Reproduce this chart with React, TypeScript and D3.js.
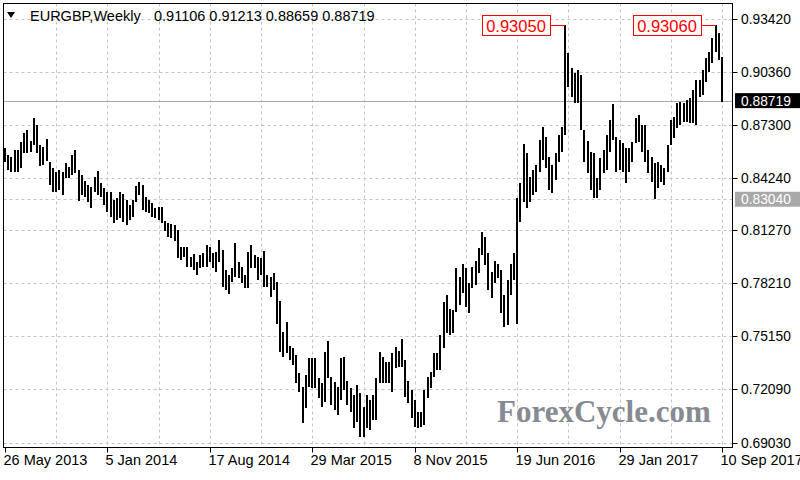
import React from "react";
import * as d3 from "d3";

const highs = [
  0.8599, 0.8559, 0.8547, 0.8587, 0.8587, 0.8633, 0.8685, 0.8703, 0.8639, 0.8772,
  0.8731, 0.8616, 0.8605, 0.8651, 0.8518, 0.8484, 0.8461, 0.8472, 0.8461, 0.8513,
  0.8490, 0.8559, 0.8587, 0.8472, 0.8443, 0.8409, 0.8386, 0.8374, 0.8432, 0.8466,
  0.8397, 0.8369, 0.8345, 0.8345, 0.8299, 0.8311, 0.8345, 0.8334, 0.8299, 0.8271,
  0.8299, 0.8380, 0.8403, 0.8386, 0.8317, 0.8299, 0.8282, 0.8253, 0.8259, 0.8259,
  0.8178, 0.8167, 0.8161, 0.8155, 0.8127, 0.8029, 0.8029, 0.8029, 0.7971, 0.7988,
  0.7942, 0.7983, 0.7994, 0.8040, 0.8029, 0.7994, 0.8000, 0.8069, 0.8011, 0.7896,
  0.7867, 0.7908, 0.8052, 0.7942, 0.7913, 0.7867, 0.8000, 0.8040, 0.7983, 0.7971,
  0.7965, 0.8006, 0.7867, 0.7856, 0.7879, 0.7827, 0.7718, 0.7539, 0.7597, 0.7458,
  0.7447, 0.7407, 0.7303, 0.7222, 0.7291, 0.7389, 0.7389, 0.7389, 0.7274, 0.7245,
  0.7424, 0.7487, 0.7280, 0.7251, 0.7222, 0.7389, 0.7395, 0.7257, 0.7217, 0.7176,
  0.7234, 0.7188, 0.7107, 0.7176, 0.7147, 0.7176, 0.7274, 0.7424, 0.7395, 0.7366,
  0.7366, 0.7418, 0.7453, 0.7430, 0.7499, 0.7378, 0.7257, 0.7205, 0.7147, 0.7078,
  0.7078, 0.7205, 0.7280, 0.7309, 0.7418, 0.7418, 0.7522, 0.7712, 0.7752, 0.7672,
  0.7666, 0.7908, 0.7856, 0.7931, 0.7908, 0.7821, 0.7913, 0.7948, 0.8023, 0.8115,
  0.8086, 0.7994, 0.7885, 0.7948, 0.7931, 0.7896, 0.7752, 0.7839, 0.7931, 0.7994,
  0.8311, 0.8397, 0.8622, 0.8570, 0.8432, 0.8472, 0.8501, 0.8645, 0.8720, 0.8662,
  0.8547, 0.8501, 0.8570, 0.8674, 0.8720, 0.9305, 0.9146, 0.9060, 0.9031, 0.9048,
  0.9020, 0.8703, 0.8639, 0.8576, 0.8570, 0.8426, 0.8541, 0.8587, 0.8674, 0.8760,
  0.8852, 0.8662, 0.8645, 0.8628, 0.8599, 0.8599, 0.8633, 0.8772, 0.8789, 0.8731,
  0.8731, 0.8587, 0.8547, 0.8513, 0.8518, 0.8501, 0.8484, 0.8616, 0.8760, 0.8777,
  0.8858, 0.8864, 0.8858, 0.8875, 0.8887, 0.8933, 0.8991, 0.8991, 0.9048, 0.9117,
  0.9152, 0.9232, 0.9306, 0.9261, 0.91213,
];

const lows = [
  0.8518, 0.8472, 0.8461, 0.8461, 0.8461, 0.8484, 0.8570, 0.8570, 0.8576, 0.8616,
  0.8570, 0.8495, 0.8501, 0.8524, 0.8386, 0.8345, 0.8345, 0.8357, 0.8328, 0.8426,
  0.8426, 0.8443, 0.8455, 0.8294, 0.8328, 0.8317, 0.8288, 0.8253, 0.8345, 0.8328,
  0.8317, 0.8271, 0.8230, 0.8202, 0.8167, 0.8184, 0.8196, 0.8173, 0.8155, 0.8184,
  0.8202, 0.8288, 0.8328, 0.8242, 0.8230, 0.8225, 0.8202, 0.8196, 0.8184, 0.8167,
  0.8121, 0.8086, 0.8081, 0.8063, 0.7965, 0.7954, 0.7971, 0.7913, 0.7913, 0.7896,
  0.7867, 0.7908, 0.7913, 0.7913, 0.7942, 0.7908, 0.7885, 0.7942, 0.7798, 0.7781,
  0.7758, 0.7827, 0.7856, 0.7850, 0.7821, 0.7793, 0.7793, 0.7908, 0.7908, 0.7839,
  0.7867, 0.7798, 0.7798, 0.7741, 0.7781, 0.7585, 0.7424, 0.7395, 0.7418, 0.7378,
  0.7349, 0.7245, 0.7194, 0.7015, 0.7101, 0.7222, 0.7217, 0.7217, 0.7159, 0.7107,
  0.7136, 0.7274, 0.7119, 0.7090, 0.7061, 0.7147, 0.7205, 0.7119, 0.7078, 0.6986,
  0.7021, 0.6934, 0.6934, 0.6986, 0.6975, 0.7032, 0.7032, 0.7245, 0.7245, 0.7245,
  0.7245, 0.7194, 0.7332, 0.7337, 0.7337, 0.7165, 0.7130, 0.7044, 0.6992, 0.6986,
  0.6992, 0.7003, 0.7159, 0.7217, 0.7280, 0.7320, 0.7320, 0.7447, 0.7533, 0.7522,
  0.7533, 0.7654, 0.7695, 0.7764, 0.7683, 0.7649, 0.7793, 0.7810, 0.7879, 0.7983,
  0.7925, 0.7781, 0.7735, 0.7821, 0.7850, 0.7649, 0.7568, 0.7579, 0.7752, 0.7839,
  0.7585, 0.8173, 0.8288, 0.8253, 0.8288, 0.8328, 0.8345, 0.8461, 0.8530, 0.8484,
  0.8357, 0.8340, 0.8415, 0.8518, 0.8576, 0.8674, 0.8950, 0.8893, 0.8858, 0.8858,
  0.8703, 0.8518, 0.8455, 0.8357, 0.8311, 0.8311, 0.8357, 0.8455, 0.8472, 0.8576,
  0.8645, 0.8461, 0.8472, 0.8461, 0.8397, 0.8461, 0.8518, 0.8628, 0.8633, 0.8576,
  0.8518, 0.8455, 0.8403, 0.8304, 0.8369, 0.8403, 0.8386, 0.8461, 0.8616, 0.8657,
  0.8714, 0.8731, 0.8749, 0.8749, 0.8743, 0.8743, 0.8731, 0.8893, 0.8904, 0.8979,
  0.9037, 0.9089, 0.9152, 0.9106, 0.88659,
];

const headerSymbol = "EURGBP,Weekly";
const headerValues = ["0.91106", "0.91213", "0.88659", "0.88719"];
const yTickValues = [0.9342, 0.9036, 0.873, 0.8424, 0.8127, 0.7821, 0.7515, 0.7209, 0.6903];
const dateLabels = ["26 May 2013", "5 Jan 2014", "17 Aug 2014", "29 Mar 2015", "8 Nov 2015", "19 Jun 2016", "29 Jan 2017", "10 Sep 2017"];
const dateLabelStep = 32;
const gridStep = 16;
const peakIndices = [175, 222];
const peakValues = [0.9305, 0.9306];
const bidPrice = 0.88719;
const supportPrice = 0.8304;
const watermark = "ForexCycle.com";

const FONT = "'Liberation Sans', Arial, sans-serif";

export default function App() {
  const W = 800, H = 480;
  const fl = 3.5, fr = 732.5, ft = 3.5, fb = 447.5;
  const x = d3.scaleLinear().domain([0, highs.length - 1]).range([5, 722]);
  const y = d3.scaleLinear().domain([0.6903, 0.9342]).range([442.5, 19]);
  const gridIdx = d3.range(gridStep, highs.length, gridStep);
  const fmt = d3.format(".5f");
  const grid = "#c4c4c4";

  return (
    <svg width={W} height={H} style={{ position: "absolute", left: 0, top: 0, background: "#fff" }}>
      <rect x={0} y={0} width={W} height={H} fill="#fff" />
      {/* grid */}
      {yTickValues.map((v, i) => (
        <line key={"hg" + i} x1={fl} x2={fr} y1={Math.round(y(v)) + 0.5} y2={Math.round(y(v)) + 0.5}
          stroke={grid} strokeDasharray="3,3" />
      ))}
      {gridIdx.map((g) => (
        <line key={"vg" + g} x1={Math.round(x(g)) + 0.5} x2={Math.round(x(g)) + 0.5} y1={ft} y2={fb}
          stroke={grid} strokeDasharray="3,3" />
      ))}
      <line x1={fl} x2={fr} y1={Math.round(y(supportPrice)) + 0.5} y2={Math.round(y(supportPrice)) + 0.5}
        stroke={grid} strokeDasharray="3,3" />
      <line x1={fl} x2={fr} y1={Math.round(y(bidPrice)) + 0.5} y2={Math.round(y(bidPrice)) + 0.5}
        stroke="#a8a8a8" />
      {/* watermark */}
      <text x={497} y={422} fontFamily="'Liberation Serif', 'Times New Roman', serif" fontWeight="bold"
        fontSize={31} fill="#868b93">{watermark}</text>
      {/* bars */}
      {highs.map((h, i) => {
        const y1 = Math.round(y(h));
        const y2 = Math.round(y(lows[i]));
        return <rect key={"b" + i} x={Math.round(x(i)) - 1} y={y1} width={2} height={Math.max(1, y2 - y1)} fill="#000" />;
      })}
      {/* peak labels */}
      {peakIndices.map((pi, k) => {
        const bx = Math.round(x(pi));
        const py = Math.round(y(peakValues[k])) + 0.5;
        return (
          <g key={"pk" + k}>
            <line x1={bx - 15} x2={bx} y1={py} y2={py} stroke="#ff0000" />
            <rect x={bx - 83 + 0.5} y={py - 10} width={68} height={20} fill="#fff" stroke="#ff0000" />
            <text x={bx - 49} y={py + 6} textAnchor="middle" fontFamily={FONT} fontSize={16.5} fill="#ff0000">
              {fmt(peakValues[k])}
            </text>
          </g>
        );
      })}
      {/* frame */}
      <rect x={fl} y={ft} width={fr - fl} height={fb - ft} fill="none" stroke="#000" />
      {/* y axis */}
      {yTickValues.map((v, i) => (
        <g key={"yt" + i}>
          <line x1={fr} x2={fr + 5} y1={Math.round(y(v)) + 0.5} y2={Math.round(y(v)) + 0.5} stroke="#000" />
          <text x={741} y={y(v) + 5} fontFamily={FONT} fontSize={13.8} fill="#000">{fmt(v)}</text>
        </g>
      ))}
      <rect x={735} y={y(bidPrice) - 7.5} width={65} height={15} fill="#000" />
      <text x={741} y={y(bidPrice) + 5} fontFamily={FONT} fontSize={13.8} fill="#fff">{fmt(bidPrice)}</text>
      <rect x={735} y={y(supportPrice) - 7.5} width={65} height={15} fill="#a8a8a8" />
      <text x={741} y={y(supportPrice) + 5} fontFamily={FONT} fontSize={13.8} fill="#fff">{fmt(supportPrice)}</text>
      {/* x axis */}
      {dateLabels.map((lab, k) => {
        const xi = Math.round(x(k * dateLabelStep)) + 0.5;
        return (
          <g key={"xt" + k}>
            <line x1={xi} x2={xi} y1={fb} y2={fb + 5} stroke="#000" />
            <text x={xi - 2} y={465} fontFamily={FONT} fontSize={14.5} fill="#000">{lab}</text>
          </g>
        );
      })}
      {/* header */}
      <path d="M7,12 L15,12 L11,18 Z" fill="#000" />
      <text x={30} y={21} fontFamily={FONT} fontSize={14.5} fill="#000">{headerSymbol}</text>
      <text x={154} y={21} fontFamily={FONT} fontSize={14.5} fill="#000">{headerValues.join(" ")}</text>
    </svg>
  );
}
